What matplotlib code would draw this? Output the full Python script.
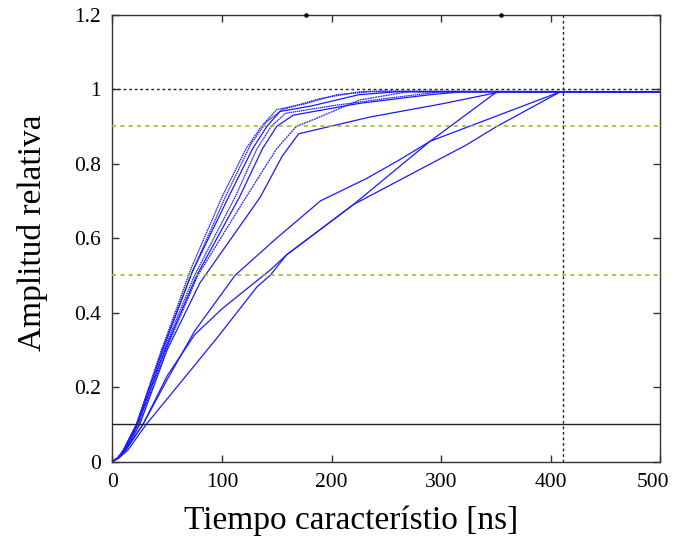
import matplotlib
matplotlib.use("Agg")
import matplotlib.pyplot as plt
from matplotlib.transforms import ScaledTranslation

plt.rcParams['font.family'] = ['Liberation Serif', 'DejaVu Serif']

# Rise curves: time [ns] and relative amplitude, one pair of lists per pulse
# fast-rising pulses
t_f1 = [0, 5, 10, 22, 45, 72, 100, 122, 136, 150, 175, 205, 235, 500]
a_f1 = [0, 0.01, 0.03, 0.10, 0.30, 0.52, 0.71, 0.84, 0.90, 0.945, 0.96, 0.985, 0.993, 0.993]
t_f2 = [0, 5, 10, 22, 46, 73, 106, 128, 141, 153, 182, 225, 260, 500]
a_f2 = [0, 0.01, 0.03, 0.10, 0.30, 0.51, 0.71, 0.84, 0.90, 0.94, 0.955, 0.985, 0.993, 0.993]
t_f3 = [0, 5, 11, 23, 47, 75, 112, 132, 145, 158, 200, 250, 300, 500]
a_f3 = [0, 0.01, 0.03, 0.10, 0.30, 0.50, 0.71, 0.84, 0.90, 0.935, 0.955, 0.975, 0.993, 0.993]
t_f4 = [0, 5, 11, 23, 48, 77, 116, 137, 150, 165, 226, 290, 320, 500]
a_f4 = [0, 0.01, 0.03, 0.10, 0.30, 0.50, 0.71, 0.84, 0.90, 0.93, 0.962, 0.985, 0.993, 0.993]
t_f5 = [0, 5, 11, 24, 49, 78, 122, 150, 168, 185, 226, 270, 500]
a_f5 = [0, 0.01, 0.03, 0.10, 0.30, 0.50, 0.71, 0.84, 0.90, 0.92, 0.971, 0.993, 0.993]
t_f6 = [0, 5, 12, 25, 50, 80, 135, 155, 170, 235, 300, 355, 500]
a_f6 = [0, 0.01, 0.03, 0.10, 0.30, 0.48, 0.71, 0.82, 0.88, 0.925, 0.96, 0.993, 0.993]
t_f7 = [0, 5, 10, 22, 45, 73, 103, 126, 140, 155, 190, 226, 245, 500]
a_f7 = [0, 0.01, 0.03, 0.10, 0.30, 0.51, 0.71, 0.85, 0.91, 0.945, 0.975, 0.993, 0.995, 0.993]

# slow-rising pulses
t_s1 = [0, 6, 12, 28, 50, 75, 112, 150, 190, 232, 262, 290, 409, 500]
a_s1 = [0, 0.01, 0.03, 0.10, 0.22, 0.35, 0.50, 0.60, 0.70, 0.76, 0.81, 0.86, 0.993, 0.993]
t_s2 = [0, 6, 12, 28, 50, 75, 100, 144, 159, 220, 290, 351, 500]
a_s2 = [0, 0.01, 0.03, 0.10, 0.23, 0.34, 0.41, 0.514, 0.555, 0.69, 0.86, 0.993, 0.993]
t_s3 = [0, 6, 14, 31, 95, 132, 144, 159, 220, 323, 351, 409, 500]
a_s3 = [0, 0.01, 0.03, 0.10, 0.33, 0.469, 0.50, 0.555, 0.69, 0.85, 0.90, 0.993, 0.993]

fast = [(t_f1, a_f1), (t_f2, a_f2), (t_f3, a_f3), (t_f4, a_f4),
        (t_f5, a_f5), (t_f6, a_f6), (t_f7, a_f7)]
slow = [(t_s1, a_s1), (t_s2, a_s2), (t_s3, a_s3)]

# reference levels and marker time
level_full = 1.0
levels_green = [0.9, 0.5]
level_low = 0.1
t_marker = 411
top_marks_t = [177, 355]

x_ticks = [0, 100, 200, 300, 400, 500]
y_ticks = [0, 0.2, 0.4, 0.6, 0.8, 1.0, 1.2]
y_tick_labels = ["0", "0.2", "0.4", "0.6", "0.8", "1", "1.2"]

fig = plt.figure(figsize=(6.73, 5.42), dpi=100)
ax = fig.add_axes([0.167, 0.1485, 0.814, 0.8245])

blue = '#1a1aff'
line_styles = [(0, (1.2, 0.5)), '-', (0, (1.2, 0.5)), '-', (0, (1.5, 0.6)), '-', (0, (1.2, 0.5))]
for (t, a), ls in zip(fast, line_styles):
    ax.plot(t, a, color=blue, lw=0.9, ls=ls, zorder=2)
for t, a in slow:
    ax.plot(t, a, color=blue, lw=0.9, zorder=2)

ax.axhline(level_full, color='#222222', ls=(0, (2, 2)), lw=1.0, zorder=3)
for lv in levels_green:
    ax.axhline(lv, color='#9cbf2e', ls=(0, (2.5, 2.5)), lw=1.2, zorder=3)
ax.axhline(level_low, color='#222222', lw=1.0, zorder=3)
ax.axvline(t_marker, color='#222222', ls=(0, (2, 2)), lw=1.0, zorder=3)

ax.plot(top_marks_t, [1.2] * len(top_marks_t), ls='none', marker='o', ms=2.2,
        color='black', clip_on=False, zorder=4)

ax.set_xlim(0, 500)
ax.set_ylim(0, 1.2)
ax.set_xticks(x_ticks)
ax.set_yticks(y_ticks)
ax.set_yticklabels(y_tick_labels)
ax.tick_params(direction='in', length=5, width=1, color='#333333',
               top=True, right=True, labelsize=15.5, pad=8)
for sp in ax.spines.values():
    sp.set_color('#333333')
    sp.set_linewidth(1.0)

# keep the last x tick label inside the figure edge
last = ax.get_xticklabels()[-1]
last.set_transform(last.get_transform() + ScaledTranslation(-5 / 72, 0, fig.dpi_scale_trans))

ax.set_xlabel('Tiempo característio [ns]', fontsize=24)
ax.xaxis.set_label_coords(0.436, -0.098)
ax.set_ylabel('Amplitud relativa', fontsize=24)
ax.yaxis.set_label_coords(-0.118, 0.511)

fig.savefig('out.png', dpi=100)
